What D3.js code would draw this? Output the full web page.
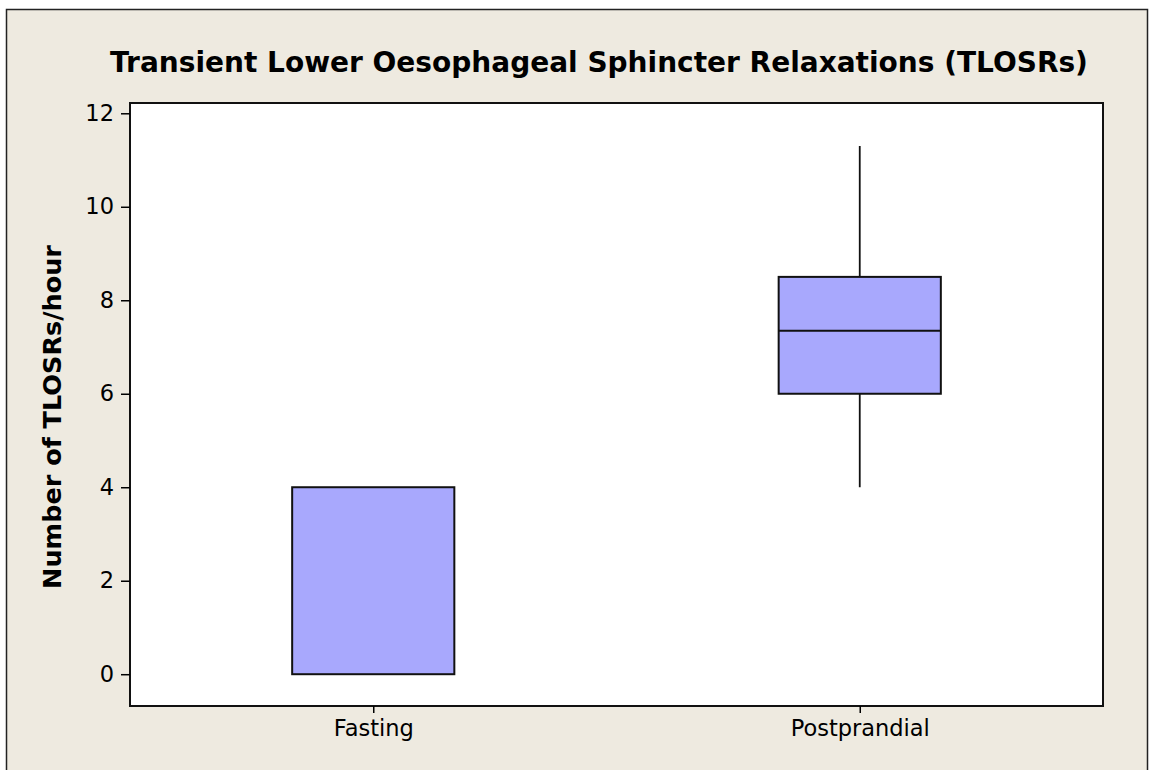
<!DOCTYPE html>
<html>
<head>
<meta charset="utf-8">
<script src="https://cdn.jsdelivr.net/npm/d3@7"></script>
<style>
  body { margin: 0; background: #fff; }
  text { font-family: Tahoma, "DejaVu Sans", sans-serif; }
</style>
</head>
<body>
<div id="chart"></div>
<script>
// box plot data
const groups = ["Fasting", "Postprandial"];
const whiskerLow = [0, 4];
const q1 = [0, 6];
const median = [0, 7.35];
const q3 = [4, 8.5];
const whiskerHigh = [4, 11.3];
const yTicks = [0, 2, 4, 6, 8, 10, 12];

const boxes = groups.map((g, i) => ({
    group: g, lo: whiskerLow[i], q1: q1[i], med: median[i], q3: q3[i], hi: whiskerHigh[i]
}));

const W = 1150, H = 770;
const margin = { top: 103, right: 47, bottom: 64, left: 130 };
const width = W - margin.left - margin.right;
const height = H - margin.top - margin.bottom;

const svg = d3.select("#chart")
    .append("svg")
    .attr("width", W)
    .attr("height", H);

// outer panel
svg.append("rect")
    .attr("x", 6.5).attr("y", 9.5)
    .attr("width", W - 9).attr("height", H)
    .attr("fill", "#eeeae0")
    .attr("stroke", "#222")
    .attr("stroke-width", 1.5);

svg.append("text")
    .attr("x", 599)
    .attr("y", 72)
    .attr("text-anchor", "middle")
    .style("font-size", "28px")
    .style("font-weight", "bold")
    .text("Transient Lower Oesophageal Sphincter Relaxations (TLOSRs)");

const g = svg.append("g")
    .attr("transform", `translate(${margin.left},${margin.top})`);

const x = d3.scalePoint()
    .domain(groups)
    .range([0, width])
    .padding(0.5);

const y = d3.scaleLinear()
    .domain([-0.68, 12.22])
    .range([height, 0]);

g.append("rect")
    .attr("width", width)
    .attr("height", height)
    .attr("fill", "#fff")
    .attr("stroke", "#111")
    .attr("stroke-width", 2);

const yAxis = g.append("g")
    .attr("class", "y axis")
    .call(d3.axisLeft(y).tickValues(yTicks).tickSize(9).tickPadding(7));
yAxis.select(".domain").remove();
yAxis.selectAll("text").style("font-size", "22.5px").style("font-family", "Tahoma, 'DejaVu Sans', sans-serif");
yAxis.selectAll("line").attr("stroke-width", 1.5);

const xAxis = g.append("g")
    .attr("class", "x axis")
    .attr("transform", `translate(0,${height})`)
    .call(d3.axisBottom(x).tickSize(7).tickPadding(7));
xAxis.select(".domain").remove();
xAxis.selectAll("text").style("font-size", "22.5px").style("font-family", "Tahoma, 'DejaVu Sans', sans-serif");
xAxis.selectAll("line").attr("stroke-width", 1.5);

svg.append("text")
    .attr("transform", "translate(61,417) rotate(-90)")
    .attr("text-anchor", "middle")
    .style("font-size", "25.5px")
    .style("font-weight", "bold")
    .text("Number of TLOSRs/hour");

const boxW = x.step() / 3;

const box = g.selectAll(".box")
    .data(boxes)
    .enter().append("g")
    .attr("class", "box");

box.append("line")
    .attr("x1", d => x(d.group)).attr("x2", d => x(d.group))
    .attr("y1", d => y(d.hi)).attr("y2", d => y(d.q3))
    .attr("stroke", "#111").attr("stroke-width", 1.8);

box.append("line")
    .attr("x1", d => x(d.group)).attr("x2", d => x(d.group))
    .attr("y1", d => y(d.q1)).attr("y2", d => y(d.lo))
    .attr("stroke", "#111").attr("stroke-width", 1.8);

box.append("rect")
    .attr("x", d => x(d.group) - boxW / 2)
    .attr("width", boxW)
    .attr("y", d => y(d.q3))
    .attr("height", d => y(d.q1) - y(d.q3))
    .attr("fill", "#a8a8fd")
    .attr("stroke", "#111")
    .attr("stroke-width", 2);

box.filter(d => d.med > d.q1)
    .append("line")
    .attr("x1", d => x(d.group) - boxW / 2).attr("x2", d => x(d.group) + boxW / 2)
    .attr("y1", d => y(d.med)).attr("y2", d => y(d.med))
    .attr("stroke", "#111").attr("stroke-width", 2);
</script>
</body>
</html>
